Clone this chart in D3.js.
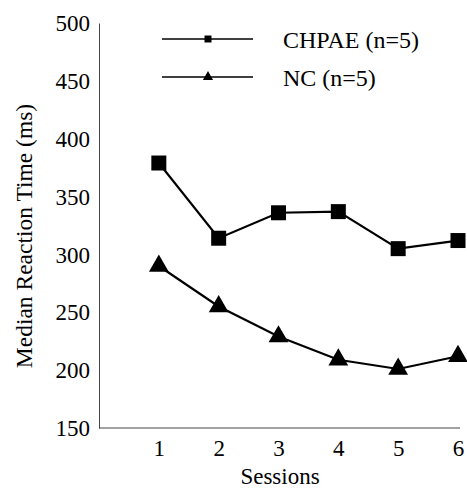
<!DOCTYPE html>
<html>
<head>
<meta charset="utf-8">
<script src="https://cdn.jsdelivr.net/npm/d3@7"></script>
<style>
  body { margin: 0; background: #fff; }
  svg text { font-family: "Liberation Serif", "Times New Roman", serif; fill: #000; }
</style>
</head>
<body>
<svg id="chart" width="467" height="489"></svg>
<script>
const sessions = [1, 2, 3, 4, 5, 6]
const chpae = [379, 314, 336, 337, 305, 312]
const nc = [290, 255, 229, 209, 201, 212]
const yTicks = [150, 200, 250, 300, 350, 400, 450, 500]
const seriesNames = ["CHPAE (n=5)", "NC (n=5)"]

const margin = { top: 23, bottom: 61, left: 99, right: 7 }
const width = 467, height = 489

const svg = d3.select("#chart")

let x = d3.scaleLinear().domain([0, 6]).range([margin.left, 458])
let y = d3.scaleLinear().domain([150, 500]).range([height - margin.bottom, margin.top])

// no tick marks in the original, only the axis lines and labels
let yAxis = svg.append("g").attr("transform", `translate(${margin.left},0)`)
    .call(d3.axisLeft(y).tickValues(yTicks).tickSize(0).tickPadding(9))
    .attr("font-family", null)
yAxis.select(".domain").attr("stroke", "#444").attr("stroke-width", 1)
yAxis.selectAll("text").style("font-size", "23px").attr("dy", "0.33em")

let xAxis = svg.append("g").attr("transform", `translate(0,${y(150)})`)
    .call(d3.axisBottom(x).tickValues(sessions).tickFormat(d3.format("d")).tickSize(0).tickPadding(12))
    .attr("font-family", null)
xAxis.select(".domain").attr("stroke", "#444").attr("stroke-width", 1)
    .attr("d", `M${margin.left},0H${width - margin.right}`)
xAxis.selectAll("text").style("font-size", "23px")

svg.append("text")
    .attr("x", 280).attr("y", 484)
    .attr("text-anchor", "middle")
    .style("font-size", "23px")
    .text("Sessions")

svg.append("text")
    .attr("transform", `translate(32,236) rotate(-90)`)
    .attr("text-anchor", "middle")
    .style("font-size", "23.5px")
    .text("Median Reaction Time (ms)")

let line = d3.line().x((d, i) => x(sessions[i])).y(d => y(d))

svg.append("path").datum(chpae).attr("d", line)
    .attr("fill", "none").attr("stroke", "#000").attr("stroke-width", 2.2)
svg.append("path").datum(nc).attr("d", line)
    .attr("fill", "none").attr("stroke", "#000").attr("stroke-width", 2.2)

let sq = d3.symbol().type(d3.symbolSquare).size(225)
let tri = d3.symbol().type(d3.symbolTriangle).size(170)

svg.selectAll(".sq").data(chpae).join("path")
    .attr("class", "sq")
    .attr("d", sq)
    .attr("transform", (d, i) => `translate(${x(sessions[i])},${y(d)})`)
    .attr("fill", "#000")

svg.selectAll(".tri").data(nc).join("path")
    .attr("class", "tri")
    .attr("d", tri)
    .attr("transform", (d, i) => `translate(${x(sessions[i])},${y(d)})`)
    .attr("fill", "#000")

// legend
let legend = svg.append("g")
let legendY = [39, 77]
let smallSq = d3.symbol().type(d3.symbolSquare).size(49)
let smallTri = d3.symbol().type(d3.symbolTriangle).size(45)
seriesNames.forEach(function(name, i) {
    legend.append("line")
        .attr("x1", 162).attr("x2", 253)
        .attr("y1", legendY[i]).attr("y2", legendY[i])
        .attr("stroke", "#000").attr("stroke-width", 1.6)
    legend.append("path")
        .attr("d", i === 0 ? smallSq : smallTri)
        .attr("transform", `translate(208,${legendY[i]})`)
        .attr("fill", "#000")
    legend.append("text")
        .attr("x", 283).attr("y", legendY[i] + 8.5)
        .style("font-size", "24px")
        .text(name)
})
</script>
</body>
</html>
